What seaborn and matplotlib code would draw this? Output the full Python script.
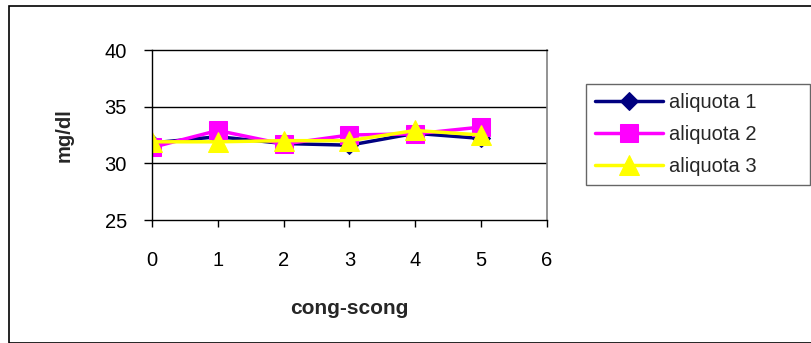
import pandas as pd
import seaborn as sns
import matplotlib.pyplot as plt
from matplotlib.patches import Rectangle

### data
cong_scong = [0, 1, 2, 3, 4, 5]
aliquota_1 = [31.8, 32.35, 31.75, 31.6, 32.65, 32.2]
aliquota_2 = [31.4, 32.9, 31.7, 32.5, 32.6, 33.2]
aliquota_3 = [31.9, 31.9, 32.0, 32.0, 32.9, 32.5]
series_names = ["aliquota 1", "aliquota 2", "aliquota 3"]

df = pd.DataFrame({
    "x": cong_scong * 3,
    "y": aliquota_1 + aliquota_2 + aliquota_3,
    "serie": [n for n in series_names for _ in cong_scong],
})

sns.set_theme(style="white")
plt.rcParams["font.family"] = ["Liberation Sans", "DejaVu Sans"]

colors = {"aliquota 1": "#000080", "aliquota 2": "#FF00FF", "aliquota 3": "#FFFF00"}
markers = {"aliquota 1": "D", "aliquota 2": "s", "aliquota 3": "^"}
msize = {"aliquota 1": 9, "aliquota 2": 13, "aliquota 3": 14}

fig = plt.figure(figsize=(8.12, 3.43), dpi=100)
fig.patches.append(Rectangle((9 / 812, 0), 1.2, 1 - 6 / 343, transform=fig.transFigure,
                             fill=False, edgecolor="black", linewidth=1.2))
ax = fig.add_axes([0.1872, 0.3586, 0.4861, 0.4956])

for name in series_names:
    sns.lineplot(data=df[df.serie == name], x="x", y="y", ax=ax, color=colors[name],
                 marker=markers[name], markersize=msize[name], markeredgecolor=colors[name],
                 linewidth=2.5, label=name)

ax.set_xlim(0, 6)
ax.set_ylim(25, 40)
ax.set_xticks(range(0, 7))
ax.set_yticks([25, 30, 35, 40])
for v in [30, 35]:
    ax.axhline(v, color="black", linewidth=1, zorder=0)

ax.tick_params(axis="both", labelsize=14.5, colors="black", direction="out", bottom=True, left=True)
ax.tick_params(axis="y", length=6, width=1, pad=12)
ax.tick_params(axis="x", length=5, width=1, pad=17)
for s in ["left", "bottom", "top"]:
    ax.spines[s].set_color("black")
    ax.spines[s].set_linewidth(1)
ax.spines["right"].set_color("#808080")
ax.spines["right"].set_linewidth(1.2)

ax.set_xlabel("cong-scong", fontsize=15, fontweight="bold", labelpad=21)
ax.set_ylabel("mg/dl", fontsize=14.5, fontweight="bold", labelpad=22)

ax.legend_.remove()
handles, labels = ax.get_legend_handles_labels()
leg = fig.legend(handles, labels, loc="center left",
                 bbox_to_anchor=(0.7213, 0.441, 0.2762, 0.3336), mode="expand",
                 fontsize=14.5, frameon=True, fancybox=False, edgecolor="#404040",
                 handlelength=3.4, handletextpad=0.3, labelspacing=0.65, borderpad=0.45,
                 borderaxespad=0)
leg.get_frame().set_linewidth(1)

fig.savefig("out.png", dpi=100)
